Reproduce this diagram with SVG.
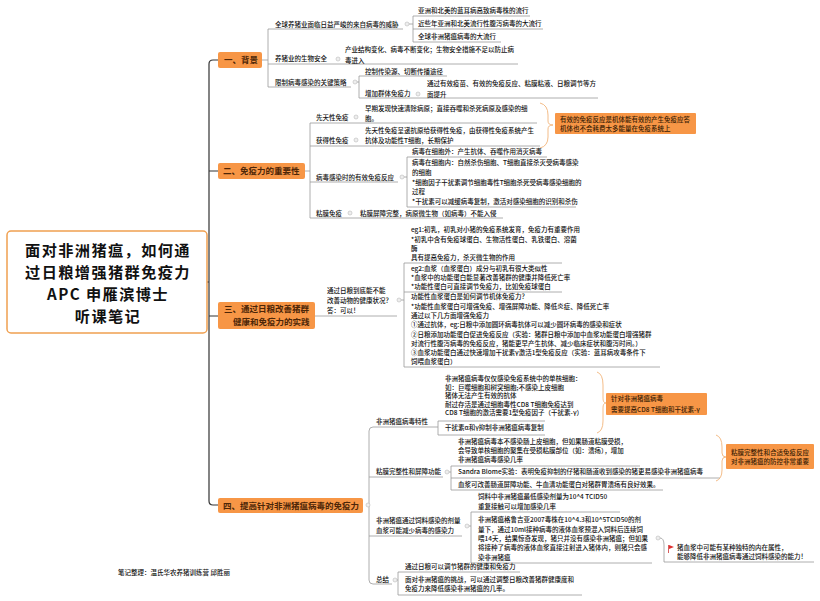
<svg xmlns="http://www.w3.org/2000/svg" width="820" height="601" viewBox="0 0 820 601">
<style>
.t{font-family:"Noto Sans CJK SC","Liberation Sans",sans-serif;font-size:6.5px;font-weight:500;fill:#111}
.h{font-family:"Noto Sans CJK SC","Liberation Sans",sans-serif;font-size:8.5px;font-weight:bold;fill:#4d2608}
.r{font-family:"Noto Sans CJK SC","Liberation Sans",sans-serif;font-size:15.2px;letter-spacing:1.4px;font-weight:bold;fill:#111;text-anchor:middle}
.n{font-family:"Noto Sans CJK SC","Liberation Sans",sans-serif;font-size:6.5px;font-weight:500;fill:#3a1d05}
.u{stroke:#9a9a9a;stroke-width:0.8;fill:none}
.m{stroke:#333;stroke-width:1.2;fill:none}
.c{fill:#eee;stroke:#bbb;stroke-width:0.6}
.box{fill:#f79646}
.br{stroke:#f2b47a;stroke-width:0.9;fill:none}
</style>
<rect width="820" height="601" fill="#fff"/>

<g id="connectors">
  <path class="m" d="M218,60 H213 Q209,60 209,64 V501 Q209,505 213,505 H218 M207,282 H209 M209,171 H218 M209,316 H218"/>
  <path class="u" d="M262,60 H268 M268,29 V87 M268,29 H403 M268,64 H518 M268,87 H351"/>
  <path class="u" d="M409,24 H413 M413,16 V42 M413,16 H530 M413,29 H543 M413,42 H501"/>
  <path class="u" d="M357,82 H359 M359,76 V98 M359,76 H447 M359,98 H598"/>
  <path class="u" d="M305,171 H310 M310,123 V218 M310,123 H537 M310,146 H540 M310,182 H398 M310,218 H503"/>
  <path class="u" d="M404,177 H407 M407,157 V207 M407,157 H547 M407,207 H576"/>
  <path class="u" d="M315,316 H397 M401,300 H404 M404,263 V367 M404,263 H562 M404,292 H562 M404,367 H660"/>
  <path class="u" d="M369,580 V431 Q369,427 373,427 H433 M369,477 H443 M369,536 H462 M369,580 Q369,584 373,584 H392"/>
  <path class="u" d="M433,427 H438 M545,421 H438 V435 H545"/>
  <path class="u" d="M449,472 H451 M451,466 V490 M451,466 H640 M451,478 H720 M451,490 H663"/>
  <path class="u" d="M469,526 H471 M471,512 V563 M471,512 H620 M471,563 H652"/>
  <path class="u" d="M660,538 Q664,538 664,545 V562 H814"/>
  <path class="u" d="M397,580 H398 M398,572 V595 M398,572 H520 M398,595 H582"/>
  <path class="br" d="M540,103 Q548,105 548,115 L548,121 Q548,125 553,125 Q548,125 548,129 L548,137 Q548,146 540,148"/>
  <path class="br" d="M597,372 Q603,374 603,385 L603,398 Q603,403 606,403 Q603,403 603,408 L603,421 Q603,431 597,433"/>
  <path class="br" d="M716,435 Q722,437 722,447 L722,453 Q722,457 726,457 Q722,457 722,461 L722,470 Q722,479 716,481"/>
</g>

<g id="collapse-markers">
  <circle class="c" cx="407" cy="24" r="2"/>
  <circle class="c" cx="338" cy="59" r="2"/>
  <circle class="c" cx="355" cy="82" r="2"/>
  <circle class="c" cx="418" cy="94" r="2"/>
  <circle class="c" cx="356" cy="117" r="2"/>
  <circle class="c" cx="356" cy="140" r="2"/>
  <circle class="c" cx="402" cy="177" r="2"/>
  <circle class="c" cx="350" cy="213" r="2"/>
  <circle class="c" cx="399" cy="300" r="2"/>
  <circle class="c" cx="368" cy="505" r="2"/>
  <circle class="c" cx="447" cy="472" r="2"/>
  <circle class="c" cx="467" cy="526" r="2"/>
  <circle class="c" cx="658" cy="538" r="2"/>
  <circle class="c" cx="395" cy="580" r="2"/>
</g>

<g id="root">
  <rect x="7" y="231" width="200" height="102" rx="4" fill="#fff" stroke="#f0a050" stroke-width="1.5"/>
  <text class="r" x="108" y="256">面对非洲猪瘟，如何通</text>
  <text class="r" x="108" y="278">过日粮增强猪群免疫力</text>
  <text class="r" x="108" y="300">APC 申雁滨博士</text>
  <text class="r" x="108" y="322">听课笔记</text>
</g>

<g id="s1">
  <rect class="box" x="218" y="52" width="44" height="16" rx="2"/>
  <text class="h" x="224" y="63">一、背景</text>
</g>
<g id="s1-threat">
  <text class="t" x="275" y="26.5">全球养猪业面临日益严峻的来自病毒的威胁</text>
  <text class="t" x="418" y="12.5">亚洲和北美的蓝耳病高致病毒株的流行</text>
  <text class="t" x="418" y="25.5">近些年亚洲和北美流行性腹泻病毒的大流行</text>
  <text class="t" x="418" y="38.5">全球非洲猪瘟病毒的大流行</text>
</g>
<g id="s1-biosafety">
  <text class="t" x="275" y="60.5">养猪业的生物安全</text>
  <text class="t" x="345" y="51.5">产业结构变化、病毒不断变化；生物安全措施不足以防止病</text>
  <text class="t" x="345" y="62.5">毒进入</text>
</g>
<g id="s1-strategy">
  <text class="t" x="275" y="84.5">限制病毒感染的关键策略</text>
  <text class="t" x="365" y="73.5">控制传染源、切断传播途径</text>
  <text class="t" x="365" y="95.5">增加群体免疫力</text>
  <text class="t" x="427" y="85.5">通过有效疫苗、有效的免疫反应、粘膜粘液、日粮调节等方</text>
  <text class="t" x="427" y="96.5">面提升</text>
</g>

<g id="s2">
  <rect class="box" x="218" y="163" width="87" height="16" rx="2"/>
  <text class="h" x="223" y="174">二、免疫力的重要性</text>
</g>
<g id="s2-innate">
  <text class="t" x="316" y="119.5">先天性免疫</text>
  <text class="t" x="365" y="110.5">早期发现快速清除病原；直接吞噬和杀死病原及感染的细</text>
  <text class="t" x="365" y="120.5">胞。</text>
</g>
<g id="s2-adaptive">
  <text class="t" x="316" y="142.5">获得性免疫</text>
  <text class="t" x="365" y="132.5">先天性免疫呈递抗原给获得性免疫，由获得性免疫系统产生</text>
  <text class="t" x="365" y="142.5">抗体及功能性T细胞，长期保护</text>
</g>
<g id="s2-note">
  <rect class="box" x="555" y="113" width="141" height="21" rx="1"/>
  <text class="n" x="560" y="121.5">有效的免疫反应是机体能有效的产生免疫应答</text>
  <text class="n" x="560" y="131">机体也不会耗费太多能量在免疫系统上</text>
</g>
<g id="s2-virus">
  <text class="t" x="316" y="179.5">病毒感染时的有效免疫反应</text>
  <text class="t" x="412" y="154">病毒在细胞外：产生抗体、吞噬作用消灭病毒</text>
  <text class="t" x="412" y="165.3">病毒在细胞内：自然杀伤细胞、T细胞直接杀灭受病毒感染</text>
  <text class="t" x="412" y="175">的细胞</text>
  <text class="t" x="412" y="184.5">*细胞因子干扰素调节细胞毒性T细胞杀死受病毒感染细胞的</text>
  <text class="t" x="412" y="194">过程</text>
  <text class="t" x="412" y="203.5">*干扰素可以减缓病毒复制，激活对感染细胞的识别和杀伤</text>
</g>
<g id="s2-mucosa">
  <text class="t" x="316" y="215.5">粘膜免疫</text>
  <text class="t" x="360" y="215.5">粘膜屏障完整，病原微生物（如病毒）不能入侵</text>
</g>

<g id="s3">
  <rect class="box" x="218" y="302" width="97" height="27" rx="2"/>
  <text class="h" x="224" y="312">三、通过日粮改善猪群</text>
  <text class="h" x="233" y="325">健康和免疫力的实践</text>
</g>
<g id="s3-question">
  <text class="t" x="327" y="293.3">通过日粮到底能不能</text>
  <text class="t" x="327" y="303.3">改善动物的健康状况？</text>
  <text class="t" x="327" y="313.3">答：可以！</text>
</g>
<g id="s3-eg1">
  <text class="t" x="411" y="232.3">eg1:初乳，初乳对小猪的免疫系统发育，免疫力有重要作用</text>
  <text class="t" x="411" y="241.8">*初乳中含有免疫球蛋白、生物活性蛋白、乳铁蛋白、溶菌</text>
  <text class="t" x="411" y="251.3">酶</text>
  <text class="t" x="411" y="260.3">具有提高免疫力，杀灭微生物的作用</text>
</g>
<g id="s3-eg2">
  <text class="t" x="411" y="271">eg2:血浆（血浆蛋白）成分与初乳有很大类似性</text>
  <text class="t" x="411" y="280">*血浆中的功能蛋白能显著改善猪群的健康并降低死亡率</text>
  <text class="t" x="411" y="289">*功能性蛋白可直接调节免疫力，比如免疫球蛋白</text>
</g>
<g id="s3-plasma">
  <text class="t" x="411" y="299.3">功能性血浆蛋白是如何调节机体免疫力？</text>
  <text class="t" x="411" y="308.8">*功能性血浆蛋白可增强免疫、增强屏障功能、降低炎症、降低死亡率</text>
  <text class="t" x="411" y="317.8">通过以下几方面增强免疫力</text>
  <text class="t" x="411" y="327.3">①通过抗体，eg:日粮中添加圆环病毒抗体可以减少圆环病毒的感染和症状</text>
  <text class="t" x="411" y="336.8">②日粮添加功能蛋白促进免疫反应（实验：猪群日粮中添加中血浆功能蛋白增强猪群</text>
  <text class="t" x="411" y="346.3">对流行性腹泻病毒的免疫反应，猪能更早产生抗体、减少临床症状和腹泻时间。）</text>
  <text class="t" x="411" y="355.3">③血浆功能蛋白通过快速增加干扰素γ激活1型免疫反应（实验：蓝耳病攻毒条件下</text>
  <text class="t" x="411" y="364.3">饲喂血浆蛋白）</text>
</g>

<g id="s4">
  <rect class="box" x="218" y="498" width="145" height="15" rx="2"/>
  <text class="h" x="223" y="508.5">四、提高针对非洲猪瘟病毒的免疫力</text>
</g>
<g id="s4-asf">
  <text class="t" x="376" y="424.3">非洲猪瘟病毒特性</text>
  <text class="t" x="445" y="381.3">非洲猪瘟病毒仅仅感染免疫系统中的单核细胞：</text>
  <text class="t" x="445" y="389.8">如：巨噬细胞和树突细胞;不感染上皮细胞</text>
  <text class="t" x="445" y="398.3">猪体无法产生有效的抗体</text>
  <text class="t" x="445" y="406.8">耐过存活是通过细胞毒性CD8 T细胞免疫达到</text>
  <text class="t" x="445" y="415.3">CD8 T细胞的激活需要1型免疫因子（干扰素-γ）</text>
  <text class="t" x="445" y="430.3">干扰素α和γ抑制非洲猪瘟病毒复制</text>
</g>
<g id="s4-note1">
  <rect class="box" x="606" y="393" width="101" height="22" rx="1"/>
  <text class="n" x="611" y="400.5">针对非洲猪瘟病毒</text>
  <text class="n" x="611" y="411.5">需要提高CD8 T细胞和干扰素-γ</text>
</g>
<g id="s4-mucosa">
  <text class="t" x="376" y="474.3">粘膜完整性和屏障功能</text>
  <text class="t" x="458" y="444.3">非洲猪瘟病毒本不感染肠上皮细胞，但如果肠道粘膜受损，</text>
  <text class="t" x="458" y="453.3">会导致单核细胞的聚集在受损粘膜部位（如：溃疡），增加</text>
  <text class="t" x="458" y="462.3">非洲猪瘟病毒感染几率</text>
  <text class="t" x="458" y="474.3">Sandra Blome实验：表明免疫抑制的仔猪和肠道收到感染的猪更易感染非洲猪瘟病毒</text>
  <text class="t" x="458" y="487.3">血浆可改善肠道屏障功能、牛血清功能蛋白对猪群胃溃疡有良好效果。</text>
</g>
<g id="s4-note2">
  <rect class="box" x="726" y="444" width="88" height="25" rx="1"/>
  <text class="n" x="731" y="454.5">粘膜完整性和合适免疫反应</text>
  <text class="n" x="731" y="464">对非洲猪瘟的防控非常重要</text>
</g>
<g id="s4-feed">
  <text class="t" x="376" y="523.3">非洲猪瘟通过饲料感染的剂量</text>
  <text class="t" x="376" y="533.3">血浆可能减少病毒的感染力</text>
  <text class="t" x="478" y="499.3">饲料中非洲猪瘟最低感染剂量为10^4 TCID50</text>
  <text class="t" x="478" y="509.3">重复接触可以增加感染几率</text>
  <text class="t" x="478" y="522.3">非洲猪瘟格鲁吉亚2007毒株在10^4.3和10^5TCID50的剂</text>
  <text class="t" x="478" y="531.8">量下，通过10ml接种病毒的液体血浆预混入饲料后连续饲</text>
  <text class="t" x="478" y="541.3">喂14天，结果惊奇发现，猪只并没有感染非洲猪瘟；但如果</text>
  <text class="t" x="478" y="550.3">将接种了病毒的液体血浆直接注射进入猪体内，则猪只会感</text>
  <text class="t" x="478" y="559.8">染非洲猪瘟</text>
</g>
<g id="s4-flag">
  <path d="M668.5,545 V553" stroke="#c33" stroke-width="0.8"/>
  <path d="M669,545 L674,547 L669,549 Z" fill="#e03030"/>
  <text class="t" x="677" y="550">猪血浆中可能有某种独特的内在属性，</text>
  <text class="t" x="677" y="559.3">能够降低非洲猪瘟病毒通过饲料感染的能力！</text>
</g>
<g id="s4-summary">
  <text class="t" x="376" y="582.3">总结</text>
  <text class="t" x="405" y="569.3">通过日粮可以调节猪群的健康和免疫力</text>
  <text class="t" x="405" y="582.3">面对非洲猪瘟的挑战，可以通过调整日粮改善猪群健康度和</text>
  <text class="t" x="405" y="591.3">免疫力来降低感染非洲猪瘟的几率。</text>
</g>

<g id="footnote">
  <text class="t" x="118" y="574.5">笔记整理：温氏华农养猪训练营 邱胜丽</text>
</g>
</svg>
